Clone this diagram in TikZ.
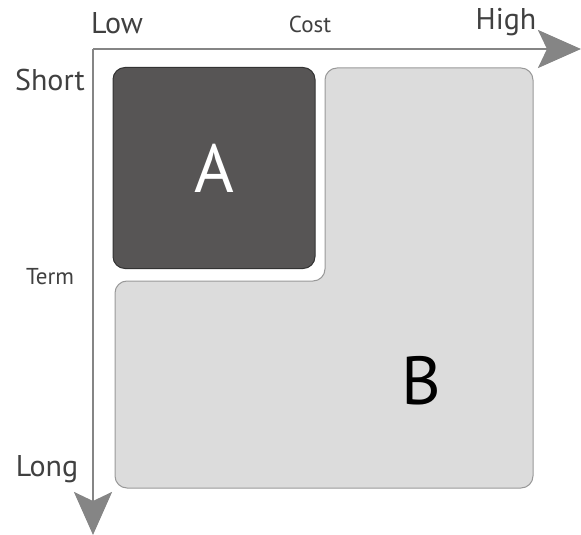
\documentclass[tikz,border=0pt]{standalone}
\usepackage{fontspec}
\setmainfont{PT Sans}
\usetikzlibrary{arrows.meta}
\definecolor{axisgray}{HTML}{858585}
\definecolor{boxdark}{HTML}{575555}
\definecolor{boxlight}{HTML}{DCDCDC}
\tikzset{
  axis/.style={draw=axisgray,line width=2.6pt,
    -{Stealth[length=43pt,width=38pt,inset=9pt,fill=axisgray]}},
  bigtext/.style={font=\fontsize{30}{32}\selectfont,text=black!75},
  smalltext/.style={font=\fontsize{23}{25}\selectfont,text=black!75}
}
\begin{document}
\begin{tikzpicture}[x=1pt,y=-1pt]
		\useasboundingbox (0,0) rectangle (581,535);
		
		% cuadrante B (forma de L)
		\fill[boxlight,draw=black!40,line width=1pt,rounded corners=12pt]
		  (325,68) -- (533,68) -- (533,488) -- (115,488) -- (115,281) -- (325,281) -- cycle;
		\node (B) at (421,381) {\fontsize{68}{72}\selectfont B};
		
		% cuadrante A
		\node[fill=boxdark,draw=black!80,line width=1pt,rounded corners=12pt,
		  minimum width=202pt,minimum height=201pt] (A) at (214,168) {};
		\node[text=white] (labelA) at (A.center) {\fontsize{68}{72}\selectfont A};
		
		% ejes
		\coordinate (origin) at (93,49);
		\coordinate (costEnd) at (581,49);
		\coordinate (termEnd) at (93,535);
		\draw[axis] (origin) -- (costEnd);%coste
		\draw[axis] (origin) -- (termEnd);%plazo
		
		\node[bigtext] (low) at (117,23) {Low};
		\node[smalltext] (cost) at (310,24) {Cost};
		\node[bigtext] (high) at (506,22) {High};
		
		\node[bigtext] (short) at (50,80) {Short};
		\node[smalltext] (term) at (50,277) {Term};
		\node[bigtext] (long) at (47,469) {Long};
        
	\end{tikzpicture}
\end{document}
